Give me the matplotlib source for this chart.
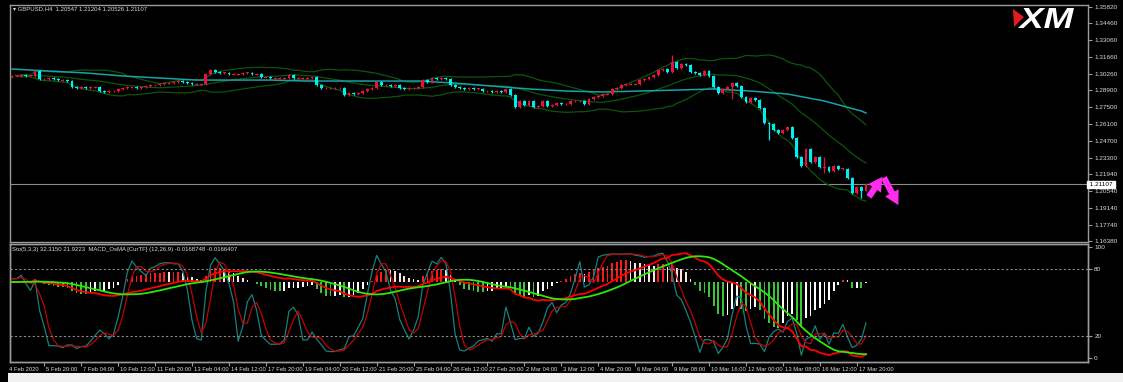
import numpy as np
import pandas as pd
import matplotlib
matplotlib.use('Agg')
import matplotlib.pyplot as plt
import matplotlib.transforms as mtrans
from matplotlib.patches import Polygon, Rectangle, PathPatch
from matplotlib.textpath import TextPath
from matplotlib.font_manager import FontProperties

# GBPUSD H4 closes, 4 Feb 2020 -> 18 Mar 2020
closes = [
    1.3009, 1.3009, 1.3017, 1.3009, 1.3009, 1.3050, 1.2984, 1.2984, 1.2992, 1.2984,
    1.2975, 1.2975, 1.2967, 1.2917, 1.2909, 1.2917, 1.2909, 1.2917, 1.2917, 1.2884,
    1.2876, 1.2884, 1.2884, 1.2901, 1.2909, 1.2917, 1.2917, 1.2909, 1.2917, 1.2925,
    1.2934, 1.2934, 1.2942, 1.2950, 1.2950, 1.2959, 1.2967, 1.2959, 1.2950, 1.2942,
    1.2942, 1.2942, 1.3025, 1.3058, 1.3042, 1.3034, 1.3034,
    1.3025, 1.3025, 1.3025, 1.3034, 1.3034, 1.3025, 1.3025, 1.3000, 1.3000, 1.2992,
    1.2992, 1.2992, 1.2992, 1.3017, 1.2992, 1.2992, 1.2992, 1.2992, 1.3000, 1.2934,
    1.2909, 1.2909, 1.2909, 1.2909, 1.2909, 1.2851, 1.2867, 1.2859, 1.2867, 1.2884,
    1.2901, 1.2909, 1.2959, 1.2934, 1.2934, 1.2925, 1.2934, 1.2909, 1.2901, 1.2909,
    1.2909, 1.2917, 1.2975, 1.2959, 1.2992, 1.2984, 1.2992, 1.2984, 1.2934, 1.2917,
    1.2909, 1.2901, 1.2909, 1.2901, 1.2901, 1.2884, 1.2884, 1.2876, 1.2884, 1.2876,
    1.2901, 1.2851, 1.2751, 1.2801, 1.2768, 1.2801, 1.2751, 1.2759, 1.2801, 1.2759,
    1.2768, 1.2784, 1.2776, 1.2776, 1.2801, 1.2801,
    1.2801, 1.2776, 1.2817, 1.2834, 1.2842, 1.2859, 1.2859, 1.2901, 1.2909, 1.2934,
    1.2942, 1.2942, 1.2942, 1.2975, 1.2984, 1.3000, 1.3017, 1.3058, 1.3067, 1.3042,
    1.3125, 1.3075, 1.3108, 1.3100, 1.3042, 1.3034, 1.3017, 1.3050, 1.3009, 1.2917,
    1.2867, 1.2901, 1.2917, 1.2950, 1.2925, 1.2834, 1.2793, 1.2826, 1.2809, 1.2743,
    1.2618, 1.2610, 1.2560, 1.2535, 1.2560, 1.2585, 1.2493, 1.2335, 1.2261, 1.2402,
    1.2294, 1.2335, 1.2252, 1.2252, 1.2219, 1.2261, 1.2236, 1.2236, 1.2161, 1.2037,
    1.2086, 1.20547, 1.21107,
]
first_open = 1.3000
# the few long wicks visible on the chart
wick_high = {143: 1.3183, 176: 1.2335, 185: 1.21204}
wick_low = {156: 1.2817, 164: 1.2477, 176: 1.2203, 184: 1.1995, 185: 1.20526}

# slow cyan moving average, read every 8 bars
ma_idx = [0, 8, 16, 24, 32, 40, 48, 56, 64, 72, 80, 88, 96, 104, 112, 120,
          128, 136, 144, 152, 160, 168, 176, 184, 185]
ma_vals = [1.3067, 1.3050, 1.3034, 1.3009, 1.2992, 1.2975, 1.2975, 1.2975,
           1.2967, 1.2967, 1.2967, 1.2967, 1.2950, 1.2925, 1.2901, 1.2884,
           1.2876, 1.2884, 1.2892, 1.2901, 1.2884, 1.2859, 1.2801, 1.2718, 1.2701]

price_ticks = [1.35820, 1.34460, 1.33060, 1.31660, 1.30260, 1.28900, 1.27500,
               1.26100, 1.24700, 1.23300, 1.21940, 1.20540, 1.19140, 1.17740, 1.16380]
last_price = 1.21107

time_labels = ['4 Feb 2020', '5 Feb 20:00', '7 Feb 04:00', '10 Feb 12:00', '11 Feb 20:00',
               '13 Feb 04:00', '14 Feb 12:00', '17 Feb 20:00', '19 Feb 04:00', '20 Feb 12:00',
               '21 Feb 20:00', '25 Feb 04:00', '26 Feb 12:00', '27 Feb 20:00', '2 Mar 04:00',
               '3 Mar 12:00', '4 Mar 20:00', '6 Mar 04:00', '9 Mar 08:00', '10 Mar 16:00',
               '12 Mar 00:00', '13 Mar 08:00', '16 Mar 12:00', '17 Mar 20:00']
time_pos = [-1] + [8 * k - 1 for k in range(1, 24)]

# hand drawn arrows on the chart
arrow_up = [(185.3, 1.1985), (188.9, 1.2190)]
arrow_down = [(188.6, 1.2185), (192.3, 1.1915)]

header = '\u25be GBPUSD,H4  1.20547 1.21204 1.20526 1.21107'
ind_title = 'Sto(5,3,3) 32.3150 21.9223  MACD_OsMA [CurTF] (12,26,9) -0.0168748 -0.0166407'

BULL = '#e8123f'
BEAR = '#00eef0'
GRID = '#9a9a9a'
TXT = '#dcdcdc'
FONT = ['Liberation Sans', 'DejaVu Sans']
plt.rcParams['font.family'] = FONT

# ---- derived series ----
cl = pd.Series(closes)
n = len(cl)
x = np.arange(n)
op = cl.shift(1).fillna(first_open)
top = np.maximum(op, cl)
bot = np.minimum(op, cl)
hi = top + 0.0006
lo = bot - 0.0006
for k, v in wick_high.items():
    hi[k] = v
for k, v in wick_low.items():
    lo[k] = v

mid = cl.rolling(20, min_periods=2).mean()
sd = cl.rolling(20, min_periods=2).std(ddof=0)
upper = mid + 2 * sd
lower = mid - 2 * sd

ll = lo.rolling(5, min_periods=1).min()
hh = hi.rolling(5, min_periods=1).max()
sto_k = (cl - ll).rolling(3, min_periods=1).sum() / (hh - ll).rolling(3, min_periods=1).sum() * 100
sto_d = sto_k.rolling(3, min_periods=1).mean()

macd = cl.ewm(span=12, adjust=False).mean() - cl.ewm(span=26, adjust=False).mean()
signal = macd.rolling(9, min_periods=1).mean()
osma = macd - signal
hcol = []
for i in range(n):
    prev = osma[i - 1] if i > 0 else 0
    if osma[i] >= 0:
        hcol.append('#ff1a1a' if osma[i] >= prev else '#ffe2e2')
    else:
        hcol.append('#39c639' if osma[i] < prev else '#ffffff')

# ---- figure ----
W, H = 1123, 382
fig = plt.figure(figsize=(W / 100, H / 100), dpi=100, facecolor='black')
xl = (-0.43, 233.1)

ax = fig.add_axes([10 / W, 1 - 242 / H, 1078 / W, 237 / H], facecolor='black')
ind = fig.add_axes([10 / W, 1 - 362 / H, 1078 / W, 118 / H], facecolor='black')

# candles
cols = [BULL if c >= o else BEAR for o, c in zip(op, cl)]
body_h = np.maximum(top - bot, 0.0008)
body_b = (top + bot) / 2 - body_h / 2
ax.vlines(x, lo, hi, colors=cols, lw=0.9, zorder=3)
ax.bar(x, body_h, bottom=body_b, width=0.62, color=cols, lw=0, zorder=4)

ax.plot(x, upper, color='#0b560b', lw=0.9, zorder=2)
ax.plot(x, mid, color='#0b560b', lw=0.9, zorder=2)
ax.plot(x, lower, color='#0b560b', lw=0.9, zorder=2)
ax.plot(ma_idx, ma_vals, color='#17a2a8', lw=1.1, zorder=2)

ax.axhline(last_price, color='#8c8c8c', lw=0.8, zorder=1)

for (x0, y0), (x1, y1) in [arrow_up, arrow_down]:
    ax.annotate('', xy=(x1, y1), xytext=(x0, y0),
                arrowprops=dict(arrowstyle='simple,head_length=1.0,head_width=1.1,tail_width=0.45',
                                color='#ff2cf0', lw=0), zorder=6, annotation_clip=False)

ax.set_xlim(*xl)
ax.set_ylim(1.16290, 1.35990)
ax.set_xticks([])
ax.yaxis.tick_right()
ax.set_yticks(price_ticks)
ax.set_yticklabels(['%.5f' % v for v in price_ticks])
ax.tick_params(axis='y', colors=GRID, labelcolor=TXT, labelsize=4.6, length=3, width=0.8, pad=1.5)
for lab in ax.get_yticklabels():
    lab.set_horizontalalignment('left')
for s in ax.spines.values():
    s.set_color(GRID)
    s.set_linewidth(1.0)

ax.text(1.0, last_price, ' 1.21107 ', transform=mtrans.blended_transform_factory(ax.transAxes, ax.transData),
        fontsize=4.6, color='black', va='center', ha='left',
        bbox=dict(boxstyle='square,pad=0.15', fc='white', ec='white'), zorder=10, clip_on=False)

# indicator window: histogram base, stochastic and MACD lines on twins
ind.bar(x, osma, width=0.38, color=hcol, lw=0, zorder=2)
ind.set_xlim(*xl)
hscale = 0.000102
ind.set_ylim(-80 * hscale, 38 * hscale)
ind.set_yticks([])

sto = ind.twinx()
sto.plot(x, sto_k, color='#17807f', lw=0.9)
sto.plot(x, sto_d, color='#c40000', lw=0.9)
for lvl in (80, 20):
    sto.axhline(lvl, color='#8a8a8a', lw=0.8, ls=(0, (2, 2)))
sto.set_xlim(*xl)
sto.set_ylim(-3.6, 102.7)
sto.set_yticks([0, 20, 80, 100])
sto.set_yticklabels(['0', '20', '80', '100'])
sto.tick_params(axis='y', colors=GRID, labelcolor=TXT, labelsize=4.6, length=3, width=0.8, pad=1.5)

mac = ind.twinx()
lscale = 0.00023
mac.plot(x, macd, color='#ff0000', lw=1.3)
mac.plot(x, signal, color='#2ee80a', lw=1.3)
mac.set_xlim(*xl)
mac.set_ylim(-80 * lscale, 38 * lscale)
mac.axis('off')

inside = [p for p in time_pos if xl[0] <= p <= xl[1]]
ind.set_xticks(inside)
ind.set_xticklabels([])
ind.tick_params(axis='x', colors=GRID, length=3, width=0.8)
tr = mtrans.blended_transform_factory(ind.transData, ind.transAxes) + \
    mtrans.ScaledTranslation(2 / 100, 0, fig.dpi_scale_trans)
for p, t in zip(time_pos, time_labels):
    ind.text(p, -0.04, t, transform=tr, fontsize=4.2, color=TXT, ha='left', va='top', clip_on=False)
for a in (ind, sto):
    for s in a.spines.values():
        s.set_color(GRID)
        s.set_linewidth(1.0)

# headers
fig.text(13 / W, 1 - 9 / H, header, fontsize=4.3, color=TXT, va='center', ha='left')
fig.text(12 / W, 1 - 249 / H, ind_title, fontsize=4.3, color=TXT, va='center', ha='left')

# XM logo, stretched to the box it fills in the screenshot
fp = FontProperties(family='Liberation Sans', weight='bold', style='italic')
tp = TextPath((0, 0), 'XM', size=1, prop=fp)
bb = tp.get_extents()
to_px = mtrans.Affine2D().translate(-bb.x0, -bb.y0).scale(56 / bb.width, 20 / bb.height) \
    .translate(1018, H - 28)
fig.add_artist(PathPatch(to_px.transform_path(tp), transform=mtrans.IdentityTransform(),
                         fc='white', ec='none'))
logo = [(1013, 9), (1024, 17), (1014, 27)]
fig.add_artist(Polygon([(px / W, 1 - py / H) for px, py in logo], closed=True,
                       transform=fig.transFigure, fc='#e01b22', ec='none'))

# light strip under the window
fig.add_artist(Rectangle((8 / W, 0), 1 - 8 / W, 9 / H, transform=fig.transFigure,
                         fc='#f0f0f0', ec='none'))

fig.savefig('out.png', dpi=100, facecolor='black')
